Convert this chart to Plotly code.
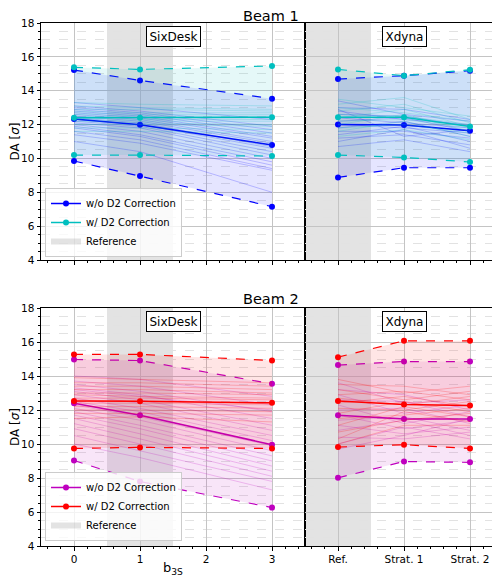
import plotly.graph_objects as go
from plotly.subplots import make_subplots

# ---------------- data ----------------
six_x = [0, 1, 3]
six_ticks = [0, 1, 2, 3]
xd_x = [0, 1, 2]
xd_ticklabels = ["Ref.", "Strat. 1", "Strat. 2"]

# Beam 1, SixDesk
b1_six_wo_mean = [12.33, 11.99, 10.79]
b1_six_wo_max = [15.22, 14.61, 13.53]
b1_six_wo_min = [9.85, 8.96, 7.15]
b1_six_w_mean = [12.41, 12.41, 12.43]
b1_six_w_max = [15.38, 15.26, 15.46]
b1_six_w_min = [10.20, 10.20, 10.14]
b1_six_wo_seeds = [
    [13.3, 13.0, 12.3], [13.1, 12.8, 11.9], [13.0, 12.7, 11.7], [12.9, 12.6, 11.5],
    [12.8, 12.5, 11.3], [12.7, 12.4, 11.2], [12.6, 12.3, 11.0], [12.5, 12.2, 10.9],
    [12.4, 12.1, 10.7], [12.3, 12.0, 10.6], [12.2, 11.9, 10.4], [12.1, 11.8, 10.2],
    [12.0, 11.6, 10.0], [11.9, 11.4, 9.8], [11.8, 11.3, 9.6], [11.6, 11.1, 9.4],
    [11.4, 10.9, 9.3], [11.0, 10.4, 8.0],
]
b1_six_w_seeds = [
    [13.3, 13.2, 13.1], [13.1, 13.0, 12.9], [12.9, 12.9, 12.8], [12.8, 12.7, 12.7],
    [12.7, 12.6, 12.6], [12.6, 12.5, 12.5], [12.5, 12.4, 12.4], [12.4, 12.3, 12.3],
    [12.3, 12.2, 12.2], [12.2, 12.1, 12.0], [12.0, 12.0, 11.9], [11.8, 11.8, 11.7],
    [11.6, 11.6, 11.5],
]

# Beam 1, Xdyna
b1_xd_wo_mean = [12.01, 11.97, 11.64]
b1_xd_wo_max = [14.69, 14.89, 15.18]
b1_xd_wo_min = [8.88, 9.45, 9.45]
b1_xd_w_mean = [12.43, 12.43, 11.89]
b1_xd_w_max = [15.26, 14.89, 15.24]
b1_xd_w_min = [10.20, 10.06, 9.79]
b1_xd_wo_seeds = [
    [13.4, 12.6, 12.2], [13.0, 12.9, 12.3], [12.8, 12.3, 12.0], [12.6, 12.5, 11.9],
    [12.4, 12.1, 11.8], [12.2, 12.4, 11.6], [12.0, 11.8, 11.5], [11.8, 12.2, 11.3],
    [11.6, 11.6, 11.2], [11.4, 11.9, 11.0], [11.2, 11.4, 10.8], [11.0, 11.7, 10.6],
    [10.7, 11.1, 10.4], [12.9, 11.3, 11.7],
]
b1_xd_w_seeds = [
    [13.5, 13.0, 12.5], [13.2, 13.6, 12.3], [13.0, 12.7, 12.2], [12.8, 13.2, 12.1],
    [12.6, 12.5, 12.0], [12.4, 12.9, 11.9], [12.2, 12.3, 11.8], [12.0, 12.6, 11.6],
    [11.8, 12.0, 11.5], [11.6, 12.2, 11.3], [11.3, 11.7, 11.1],
]

# Beam 2, SixDesk
b2_six_wo_mean = [12.40, 11.69, 9.96]
b2_six_wo_max = [14.97, 14.91, 13.54]
b2_six_wo_min = [9.03, 7.79, 6.26]
b2_six_w_mean = [12.53, 12.51, 12.42]
b2_six_w_max = [15.27, 15.27, 14.91]
b2_six_w_min = [9.74, 9.80, 9.74]
b2_six_wo_seeds = [
    [14.0, 13.8, 12.8], [13.7, 13.4, 12.3], [13.5, 13.1, 11.9], [13.3, 12.9, 11.5],
    [13.1, 12.6, 11.1], [12.9, 12.4, 10.8], [12.7, 12.1, 10.5], [12.5, 11.9, 10.2],
    [12.3, 11.6, 9.9], [12.1, 11.4, 9.6], [11.9, 11.1, 9.3], [11.7, 10.9, 9.0],
    [11.5, 10.6, 8.7], [11.2, 10.3, 8.4], [10.9, 10.0, 8.1], [10.5, 9.6, 7.8],
    [10.0, 9.2, 7.3], [13.2, 12.8, 12.0],
]
b2_six_w_seeds = [
    [13.9, 13.8, 13.6], [13.6, 13.6, 13.4], [13.4, 13.4, 13.2], [13.2, 13.2, 13.0],
    [13.0, 13.0, 12.9], [12.9, 12.8, 12.7], [12.7, 12.7, 12.6], [12.6, 12.5, 12.4],
    [12.4, 12.4, 12.3], [12.2, 12.2, 12.1], [12.0, 12.0, 11.9], [11.8, 11.8, 11.7],
    [11.5, 11.6, 11.3],
]

# Beam 2, Xdyna
b2_xd_wo_mean = [11.69, 11.47, 11.47]
b2_xd_wo_max = [14.64, 14.85, 14.85]
b2_xd_wo_min = [8.01, 8.97, 8.92]
b2_xd_w_mean = [12.53, 12.32, 12.26]
b2_xd_w_max = [15.11, 16.07, 16.07]
b2_xd_w_min = [9.82, 9.96, 9.74]
b2_xd_wo_seeds = [
    [13.6, 12.4, 12.6], [13.2, 12.9, 12.0], [12.9, 11.8, 12.3], [12.6, 12.5, 11.6],
    [12.3, 11.2, 11.9], [12.0, 12.1, 11.2], [11.7, 10.9, 11.4], [11.4, 11.6, 10.8],
    [11.1, 10.6, 11.0], [10.8, 11.4, 10.5], [10.4, 10.3, 10.7], [10.0, 11.0, 10.3],
    [9.7, 10.5, 11.5],
]
b2_xd_w_seeds = [
    [13.8, 13.0, 13.4], [13.5, 13.4, 12.9], [13.2, 12.6, 13.1], [12.9, 13.1, 12.6],
    [12.7, 12.3, 12.8], [12.4, 12.8, 12.2], [12.1, 12.0, 12.5], [11.8, 12.5, 11.9],
    [11.5, 11.7, 12.1], [11.1, 12.2, 11.6], [10.7, 11.4, 11.8], [10.3, 11.9, 11.3],
    [10.0, 11.1, 11.1],
]

series_names = ["w/o D2 Correction", "w/ D2 Correction", "Reference"]
panel_titles = ["Beam 1", "Beam 2"]
code_labels = ["SixDesk", "Xdyna"]
y_ticks = [4, 6, 8, 10, 12, 14, 16, 18]

# colours (matplotlib b, c, m, r)
COL = {
    "b": (0, 0, 255),
    "c": (0, 191, 191),
    "m": (191, 0, 191),
    "r": (255, 0, 0),
}

FONT = "DejaVu Sans"

fig = make_subplots(rows=2, cols=2, horizontal_spacing=0, vertical_spacing=0.05)


def rgba(c, a):
    return f"rgba({c[0]},{c[1]},{c[2]},{a})"


def add_group(row, col, xs, mean, mx, mn, seeds, ckey, name, legend, showlegend):
    c = COL[ckey]
    fig.add_trace(go.Scatter(
        x=list(xs) + list(xs)[::-1], y=list(mx) + list(mn)[::-1],
        fill="toself", fillcolor=rgba(c, 0.1), mode="none",
        hoverinfo="skip", showlegend=False), row=row, col=col)
    for s in seeds:
        fig.add_trace(go.Scatter(
            x=xs, y=s, mode="lines", line=dict(color=rgba(c, 0.22), width=1),
            hoverinfo="skip", showlegend=False), row=row, col=col)
    for arr in (mx, mn):
        fig.add_trace(go.Scatter(
            x=xs, y=arr, mode="lines+markers",
            line=dict(color=rgba(c, 1), width=1.2, dash="dash"),
            marker=dict(color=rgba(c, 1), size=6),
            showlegend=False), row=row, col=col)
    fig.add_trace(go.Scatter(
        x=xs, y=mean, mode="lines+markers", name=name,
        line=dict(color=rgba(c, 1), width=1.5),
        marker=dict(color=rgba(c, 1), size=6),
        legend=legend, showlegend=showlegend), row=row, col=col)


add_group(1, 1, six_x, b1_six_wo_mean, b1_six_wo_max, b1_six_wo_min, b1_six_wo_seeds, "b", series_names[0], "legend", True)
add_group(1, 1, six_x, b1_six_w_mean, b1_six_w_max, b1_six_w_min, b1_six_w_seeds, "c", series_names[1], "legend", True)
add_group(1, 2, xd_x, b1_xd_wo_mean, b1_xd_wo_max, b1_xd_wo_min, b1_xd_wo_seeds, "b", series_names[0], "legend", False)
add_group(1, 2, xd_x, b1_xd_w_mean, b1_xd_w_max, b1_xd_w_min, b1_xd_w_seeds, "c", series_names[1], "legend", False)
add_group(2, 1, six_x, b2_six_wo_mean, b2_six_wo_max, b2_six_wo_min, b2_six_wo_seeds, "m", series_names[0], "legend2", True)
add_group(2, 1, six_x, b2_six_w_mean, b2_six_w_max, b2_six_w_min, b2_six_w_seeds, "r", series_names[1], "legend2", True)
add_group(2, 2, xd_x, b2_xd_wo_mean, b2_xd_wo_max, b2_xd_wo_min, b2_xd_wo_seeds, "m", series_names[0], "legend2", False)
add_group(2, 2, xd_x, b2_xd_w_mean, b2_xd_w_max, b2_xd_w_min, b2_xd_w_seeds, "r", series_names[1], "legend2", False)

GREY = "rgba(128,128,128,0.22)"
for lg, row in (("legend", 1), ("legend2", 2)):
    fig.add_trace(go.Scatter(
        x=[None, None, None], y=[None, None, None], mode="none", fill="toself",
        fillcolor=GREY, name=series_names[2], legend=lg,
        showlegend=True), row=row, col=1)

for xr, yr in (("x", "y"), ("x3", "y3")):
    fig.add_shape(type="rect", xref=xr, yref=f"{yr} domain", x0=0.5, x1=1.5, y0=0, y1=1,
                  fillcolor=GREY, line_width=0, layer="below")
for xr, yr in (("x2", "y2"), ("x4", "y4")):
    fig.add_shape(type="rect", xref=xr, yref=f"{yr} domain", x0=-0.5, x1=0.5, y0=0, y1=1,
                  fillcolor=GREY, line_width=0, layer="below")

# geometry (page body adds an 8px offset; positions below are window pixels)
OFF = 8
W, H = 500 - OFF, 580 - OFF
PL, PR, PT, PB = 41, 500, 23, 546          # plot area in window pixels
L, R, T, B = PL - OFF, 500 - PR, PT - OFF, 580 - PB
pw = PR - PL
ph = PB - PT


def px_x(p):
    return (p - PL) / pw


def px_y(p):
    return (PB - p) / ph


split = px_x(305)
top_dom = [px_y(260), 1.0]
bot_dom = [0.0, px_y(308)]

GRID = "#c4c4c4"
MINOR_GRID = "#e2e2e2"
TICKFONT = dict(family=FONT, size=10.5, color="black")

common_x = dict(showline=True, linecolor="black", linewidth=1, mirror=True,
                ticks="outside", ticklen=3.5, tickcolor="black",
                showgrid=True, gridcolor=GRID, gridwidth=1.3, zeroline=False,
                tickfont=TICKFONT,
                minor=dict(dtick=0.2, ticks="outside", ticklen=2, tickcolor="black", showgrid=False))
common_y = dict(range=[4, 18], tickvals=y_ticks, showline=True, linecolor="black", linewidth=1,
                ticks="outside", ticklen=3.5, tickcolor="black",
                showgrid=True, gridcolor=GRID, gridwidth=1.3, zeroline=False,
                tickfont=TICKFONT,
                minor=dict(dtick=0.5, ticks="outside", ticklen=2, tickcolor="black",
                           showgrid=True, gridcolor=MINOR_GRID, griddash="dash", gridwidth=1))

xd_right = 2.5 - 3 / 66
ytitle = dict(text="DA [<i>σ</i>]", font=dict(family=FONT, size=12, color="black"), standoff=4)

fig.update_layout(
    xaxis=dict(common_x, domain=[0, split], range=[-0.5, 3.5], tickvals=six_ticks, showticklabels=False),
    xaxis2=dict(common_x, domain=[split, 1], range=[-0.5, xd_right], tickvals=xd_x, showticklabels=False),
    xaxis3=dict(common_x, domain=[0, split], range=[-0.5, 3.5], tickvals=six_ticks),
    xaxis4=dict(common_x, domain=[split, 1], range=[-0.5, xd_right], tickvals=xd_x, ticktext=xd_ticklabels),
    yaxis=dict(common_y, domain=top_dom, mirror=True, title=ytitle),
    yaxis2=dict(common_y, domain=top_dom, showticklabels=False, ticks="", mirror=False,
                minor=dict(dtick=0.5, ticks="", showgrid=True, gridcolor=MINOR_GRID, griddash="dash")),
    yaxis3=dict(common_y, domain=bot_dom, mirror=True, title=ytitle),
    yaxis4=dict(common_y, domain=bot_dom, showticklabels=False, ticks="", mirror=False,
                minor=dict(dtick=0.5, ticks="", showgrid=True, gridcolor=MINOR_GRID, griddash="dash")),
)

legend_style = dict(bgcolor="rgba(255,255,255,0.8)", bordercolor="#cccccc", borderwidth=1,
                    font=dict(family=FONT, size=10, color="black"), xanchor="left", yanchor="bottom",
                    itemwidth=30, tracegroupgap=0, traceorder="normal")
fig.update_layout(
    legend=dict(legend_style, x=px_x(45), y=px_y(257)),
    legend2=dict(legend_style, x=px_x(45), y=px_y(541)),
)

# x-axis label of the lower SixDesk panel
fig.add_annotation(text="b<sub>3S</sub>", xref="x3", yref="paper", x=1.5, y=px_y(579),
                   xanchor="center", yanchor="bottom", showarrow=False,
                   font=dict(family=FONT, size=13, color="black"))

for i, t in enumerate(panel_titles):
    ypix = [16, 299][i]
    fig.add_annotation(text=t, xref="paper", yref="paper", x=0.5, y=px_y(ypix),
                       xanchor="center", yanchor="middle", showarrow=False,
                       font=dict(family=FONT, size=14.5, color="black"))

for xr, yr, lab, xpos in (("x", "y", code_labels[0], 1.5), ("x2", "y2", code_labels[1], 1),
                          ("x3", "y3", code_labels[0], 1.5), ("x4", "y4", code_labels[1], 1)):
    fig.add_annotation(text=lab, xref=xr, yref=yr, x=xpos, y=17.2, showarrow=False,
                       xanchor="center", yanchor="middle",
                       font=dict(family=FONT, size=12, color="black"),
                       bordercolor="black", borderwidth=1, borderpad=2.5, bgcolor="white")

fig.update_layout(
    width=W, height=H, margin=dict(l=L, r=R, t=T, b=B, autoexpand=False),
    plot_bgcolor="white", paper_bgcolor="white",
    font=dict(family=FONT, size=10, color="black"),
)

fig.write_html("out.html")
